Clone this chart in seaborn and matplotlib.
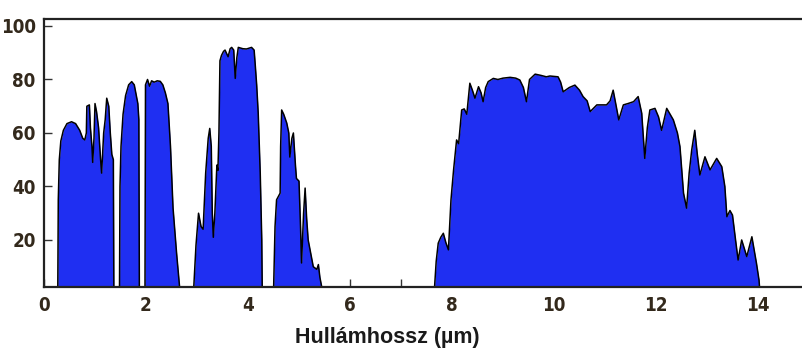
import numpy as np
import pandas as pd
import matplotlib
matplotlib.use("Agg")
import matplotlib.pyplot as plt
import seaborn as sns

# atmospheric transmission windows (wavelength in um, transmission in %)
band1_um = [0.27, 0.28, 0.30, 0.33, 0.38, 0.45, 0.54, 0.62, 0.70, 0.76, 0.80, 0.83, 0.84, 0.89, 0.91, 0.94,
            0.955, 0.98, 1.00, 1.03, 1.07, 1.11, 1.13, 1.17, 1.20, 1.23, 1.27, 1.30, 1.33, 1.36, 1.37]
band1_pct = [0, 35, 50, 57, 61, 63.5, 64.2, 63.5, 61, 58, 57.4, 60, 70, 70.5, 62, 55,
             49, 58, 71, 68, 62, 50, 45, 60, 65, 73, 70, 60, 52, 50, 0]

band2_um = [1.48, 1.49, 1.51, 1.55, 1.60, 1.66, 1.72, 1.77, 1.81, 1.84, 1.86, 1.87]
band2_pct = [0, 40, 55, 67, 74, 78, 79.2, 78, 74, 71, 65, 0]

band3_um = [1.98, 1.99, 2.03, 2.07, 2.11, 2.16, 2.22, 2.28, 2.33, 2.38, 2.43, 2.48, 2.53, 2.60, 2.67]
band3_pct = [0, 78, 80, 77.5, 79.5, 79, 79.5, 79.3, 78, 75, 71, 55, 32, 15, 0]

band4_um = [2.93, 2.98, 3.03, 3.08, 3.12, 3.17, 3.22, 3.25, 3.28, 3.30, 3.32, 3.35, 3.39, 3.41, 3.43, 3.45,
            3.48, 3.52, 3.55, 3.61, 3.65, 3.68, 3.72, 3.75, 3.78, 3.81, 3.90, 3.97, 4.07, 4.12, 4.14, 4.17,
            4.20, 4.24, 4.27, 4.28]
band4_pct = [0, 18, 30, 25, 24, 45, 58, 61.7, 55, 30, 21, 30, 48, 46, 60, 87,
             89, 90.5, 91, 88.5, 91.5, 92, 91, 80.4, 88, 92, 91.5, 91.4, 92, 91, 86, 78,
             67.5, 45, 20, 0]

band5_um = [4.50, 4.53, 4.56, 4.63, 4.64, 4.66, 4.70, 4.76, 4.80, 4.82, 4.86, 4.89, 4.93, 4.95,
            5.00, 5.03, 5.05, 5.09, 5.12, 5.15, 5.18, 5.23, 5.28, 5.35, 5.38, 5.41, 5.45, 5.48]
band5_pct = [0, 25, 35, 37.5, 55, 68.6, 67, 63.7, 60, 51, 58, 60, 48, 43,
             42, 25, 11.4, 30, 39.4, 28, 20, 15, 10, 9, 10.8, 6, 2, 0]

band6_um = [7.65, 7.69, 7.73, 7.78, 7.83, 7.88, 7.93, 7.98, 8.03, 8.09, 8.13, 8.19, 8.24, 8.29, 8.35, 8.40,
            8.45, 8.52, 8.57, 8.61, 8.66, 8.71, 8.81, 8.90, 9.00, 9.14, 9.25, 9.33, 9.40, 9.46, 9.52, 9.63,
            9.75, 9.85, 9.92, 10.08, 10.13, 10.18, 10.30, 10.41, 10.50, 10.57, 10.65, 10.71, 10.84, 11.03,
            11.10, 11.16, 11.22, 11.27, 11.36, 11.45, 11.56, 11.65, 11.72, 11.78, 11.83, 11.88, 11.98, 12.05,
            12.11, 12.21, 12.34, 12.42, 12.47, 12.54, 12.60, 12.65, 12.70, 12.76, 12.81, 12.86, 12.96, 13.06,
            13.19, 13.29, 13.35, 13.39, 13.45, 13.50, 13.56, 13.61, 13.68, 13.78, 13.88, 13.97, 14.02, 14.04]
band6_pct = [0, 12, 18.8, 21, 22.5, 19, 16.3, 35, 46, 57.4, 56, 68.6, 69, 67, 78.6, 76,
             73, 77.3, 75, 71.7, 77, 79.2, 80.4, 80, 80.5, 80.8, 80.5, 79.8, 77, 71.7, 80, 82,
             81.5, 81, 81.3, 81, 79, 75.4, 77, 77.9, 76, 73.6, 72, 68, 70.5, 70.5,
             72, 76, 70, 64.9, 70.5, 71, 71.7, 73.6, 67.4, 50.5, 62, 68.6, 69.2, 66,
             61, 69.2, 64.9, 60, 54.9, 37.5, 31.9, 45, 53.6, 61, 52, 44.3, 51.1, 46.2,
             50.5, 47.4, 40, 28.7, 31, 29.3, 20, 12.5, 20, 13.8, 21.2, 11.3, 5, 0]

x_ticks = [0, 2, 4, 6, 8, 10, 12, 14]
y_ticks = [20, 40, 60, 80, 100]

bands = [(band1_um, band1_pct), (band2_um, band2_pct), (band3_um, band3_pct),
         (band4_um, band4_pct), (band5_um, band5_pct), (band6_um, band6_pct)]

frames = []
for i, (wl, tr) in enumerate(bands):
    frames.append(pd.DataFrame({"wl": wl, "tr": tr, "band": i}))
df = pd.concat(frames, ignore_index=True)

sns.set_theme(style="ticks")
plt.rcParams["font.family"] = ["DejaVu Sans"]
plt.rcParams["font.weight"] = "bold"

fig = plt.figure(figsize=(8.03, 3.51), dpi=100)
ax = fig.add_axes([44 / 803, 1 - 287.3 / 351, 1 - 44 / 803, (287.3 - 19.3) / 351])

for i, g in df.groupby("band"):
    ax.fill_between(g["wl"], g["tr"], 0, color="#1f2ff2", linewidth=0)
sns.lineplot(data=df, x="wl", y="tr", units="band", estimator=None, sort=False,
             color="black", linewidth=1.1, ax=ax)

ax.set_xlim(0, (803 - 44) / 51.0)
ax.set_ylim(2.3, 102.5)
ax.set_xticks(x_ticks)
ax.set_xticks(np.arange(1, 15, 2), minor=True)
ax.set_yticks(y_ticks)

lab_col = "#33291c"
ax.tick_params(axis="both", which="both", direction="in", length=6, width=1,
               color="#333333", labelcolor=lab_col, labelsize=13.5)
ax.tick_params(axis="x", pad=6)
ax.tick_params(axis="y", pad=6)
# narrow bold digits like the original
for lbl in ax.get_xticklabels() + ax.get_yticklabels():
    lbl.set_fontweight("bold")
    lbl.set_fontstretch("condensed")

for side in ["top", "bottom", "left"]:
    ax.spines[side].set_linewidth(1.6)
    ax.spines[side].set_color("#222222")
ax.spines["right"].set_visible(False)

ax.set_ylabel("")
ax.set_xlabel("Hullámhossz (µm)", fontsize=15.5, fontweight="bold", color="#1a1a1a",
              family=["Liberation Sans", "DejaVu Sans"], va="center")
ax.xaxis.set_label_coords((387.5 - 44) / 759, (287.3 - 337) / 268)

fig.savefig("out.png", dpi=100)
